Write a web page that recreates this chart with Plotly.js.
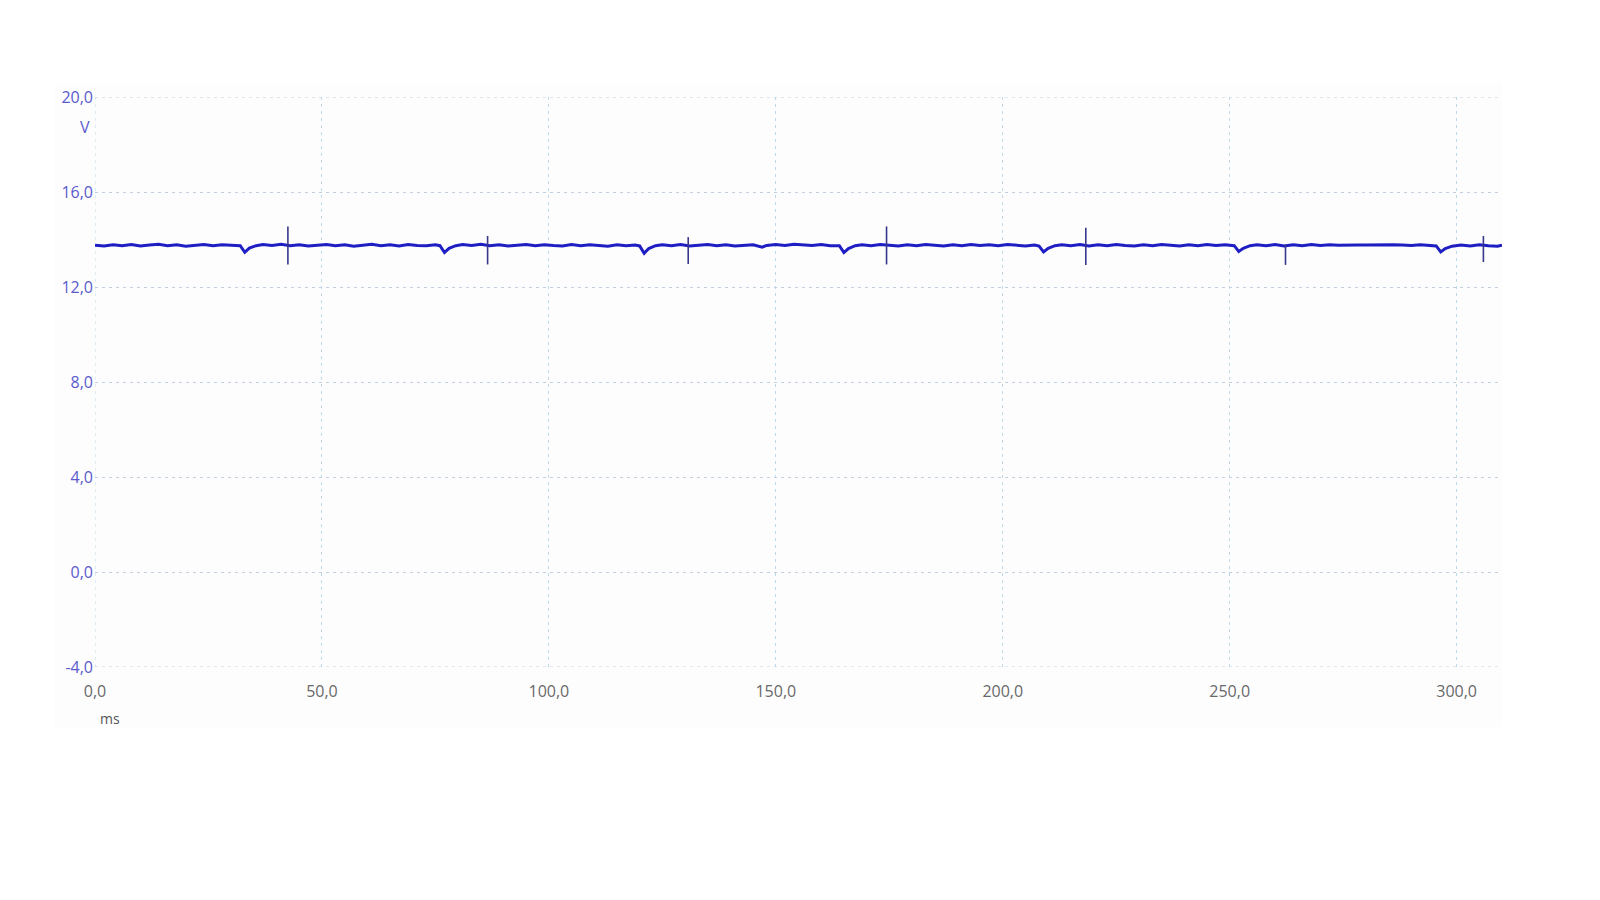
<!DOCTYPE html>
<html>
<head>
<meta charset="utf-8">
<script src="https://cdn.plot.ly/plotly-3.0.1.min.js"></script>
<style>html,body{margin:0;padding:0;background:#fff;}#chart{width:1600px;height:900px;}</style>
</head>
<body>
<div id="chart"></div>
<script>
// Signal samples (time in ms, voltage in V)
const time_ms = [0,2,4,6,8,10,12,14,16,18,20,22,24,26,28,30,32,33,34,35.5,37,39,41,43,45,47,49,51,53,55,57,59,61,63,65,67,69,71,73,75,76,77,78,79.5,81,83,85,87,89,91,93,95,97,99,101,103,105,107,109,111,113,115,117,119,120,121,122,123.5,125,127,129,131,133,135,137,139,141,143,145,147,148,150,152,154,156,158,160,162,164,165,166,167.5,169,171,173,175,177,179,181,183,185,187,189,191,193,195,197,199,201,203,205,207,208,209,210,211.5,213,215,217,219,221,223,225,227,229,231,233,235,237,239,241,243,245,247,249,251,252,253,254.5,256,258,260,262,264,266,268,270,272,274,276,278,280,282,284,286,288,290,292,294,295.5,296.5,297.5,299,301,303,305,307,309,310];
const volts = [13.76,13.73,13.78,13.74,13.79,13.73,13.77,13.80,13.74,13.78,13.72,13.77,13.79,13.74,13.78,13.76,13.74,13.46,13.64,13.74,13.79,13.75,13.80,13.74,13.78,13.73,13.77,13.79,13.74,13.78,13.72,13.77,13.80,13.74,13.78,13.73,13.79,13.75,13.74,13.78,13.74,13.45,13.63,13.74,13.79,13.75,13.80,13.74,13.78,13.73,13.77,13.79,13.74,13.78,13.75,13.73,13.79,13.74,13.78,13.75,13.72,13.78,13.74,13.77,13.73,13.42,13.62,13.74,13.78,13.74,13.79,13.73,13.77,13.79,13.74,13.78,13.73,13.77,13.78,13.68,13.75,13.79,13.75,13.80,13.76,13.75,13.79,13.74,13.74,13.45,13.62,13.74,13.78,13.74,13.79,13.75,13.73,13.78,13.74,13.79,13.75,13.73,13.78,13.74,13.79,13.75,13.78,13.74,13.79,13.75,13.73,13.77,13.72,13.48,13.63,13.74,13.78,13.74,13.79,13.73,13.78,13.74,13.79,13.75,13.73,13.78,13.74,13.79,13.75,13.73,13.78,13.74,13.79,13.75,13.78,13.74,13.50,13.63,13.74,13.78,13.74,13.79,13.73,13.78,13.74,13.79,13.75,13.78,13.76,13.78,13.77,13.77,13.78,13.77,13.78,13.77,13.75,13.78,13.74,13.73,13.48,13.62,13.72,13.77,13.73,13.78,13.74,13.72,13.76];

// Short transient spikes (time, peak high, peak low)
const spike_t  = [42.5, 86.5, 130.7, 174.4, 218.3, 262.3, 305.9];
const spike_hi = [14.55, 14.15, 14.10, 14.55, 14.50, 13.78, 14.15];
const spike_lo = [12.95, 12.95, 12.97, 12.95, 12.93, 12.93, 13.05];

const x_ticks = [0, 50, 100, 150, 200, 250, 300];
const y_ticks = [-4, 0, 4, 8, 12, 16, 20];

const fmt = v => v.toFixed(1).replace('.', ',');

const sx = [], sy = [];
spike_t.forEach((t, i) => { sx.push(t, t, null); sy.push(spike_hi[i], spike_lo[i], null); });

const traces = [
  {x: time_ms, y: volts, type: 'scatter', mode: 'lines',
   line: {color: 'rgb(30,30,195)', width: 3}, hoverinfo: 'skip'},
  {x: sx, y: sy, type: 'scatter', mode: 'lines',
   line: {color: 'rgb(55,55,140)', width: 1.6}, hoverinfo: 'skip'}
];

const hGrid = 'rgb(195,208,225)', vGrid = 'rgb(190,218,232)';
const font = '"Open Sans", "Noto Sans", sans-serif';
const yMin = y_ticks[0], yMax = y_ticks[y_ticks.length - 1];
const layout = {
  width: 1600, height: 900,
  paper_bgcolor: '#ffffff', plot_bgcolor: 'rgba(0,0,0,0)',
  margin: {l: 95, r: 98, t: 97, b: 233},
  showlegend: false,
  font: {family: font},
  xaxis: {
    range: [0, 310], tickvals: x_ticks, ticktext: x_ticks.map(fmt),
    showgrid: true, gridcolor: vGrid, griddash: '3px,4px', gridwidth: 1,
    zeroline: false, showline: false, ticks: '', ticklabelstandoff: 13,
    tickfont: {family: font, size: 16, color: 'rgb(105,105,105)'}
  },
  yaxis: {
    range: [yMin, yMax], tickvals: y_ticks, ticktext: y_ticks.map(fmt),
    showgrid: true, gridcolor: hGrid, griddash: '3px,4px', gridwidth: 1,
    zeroline: false, showline: false, ticks: '', ticklabelstandoff: 1,
    tickfont: {family: font, size: 16, color: 'rgb(90,90,205)'}
  },
  shapes: [
    {type: 'rect', xref: 'paper', yref: 'paper', x0: -0.0284, x1: 1.0, y0: -0.106, y1: 1.024,
     fillcolor: 'rgb(253,253,254)', line: {width: 0}, layer: 'below'},
    {type: 'line', xref: 'paper', yref: 'y', x0: 0, x1: 1, y0: yMax, y1: yMax,
     line: {color: hGrid, width: 1, dash: '3px,4px'}, layer: 'below'},
    {type: 'line', xref: 'paper', yref: 'y', x0: 0, x1: 1, y0: yMin, y1: yMin,
     line: {color: hGrid, width: 1, dash: '3px,4px'}, layer: 'below'},
    {type: 'line', xref: 'x', yref: 'paper', x0: x_ticks[0], x1: x_ticks[0], y0: 0, y1: 1,
     line: {color: vGrid, width: 1, dash: '3px,4px'}, layer: 'below'}
  ],
  annotations: [
    {text: 'V', xref: 'paper', yref: 'paper', x: -0.002, y: 0.947, xanchor: 'right', yanchor: 'middle',
     showarrow: false, font: {family: font, size: 16, color: 'rgb(90,90,205)'}},
    {text: 'ms', xref: 'paper', yref: 'paper', x: 0.0107, y: -0.0904, xanchor: 'center', yanchor: 'middle',
     showarrow: false, font: {family: font, size: 14, color: 'rgb(85,85,85)'}}
  ]
};

Plotly.newPlot('chart', traces, layout, {displayModeBar: false, staticPlot: true});
</script>
</body>
</html>
